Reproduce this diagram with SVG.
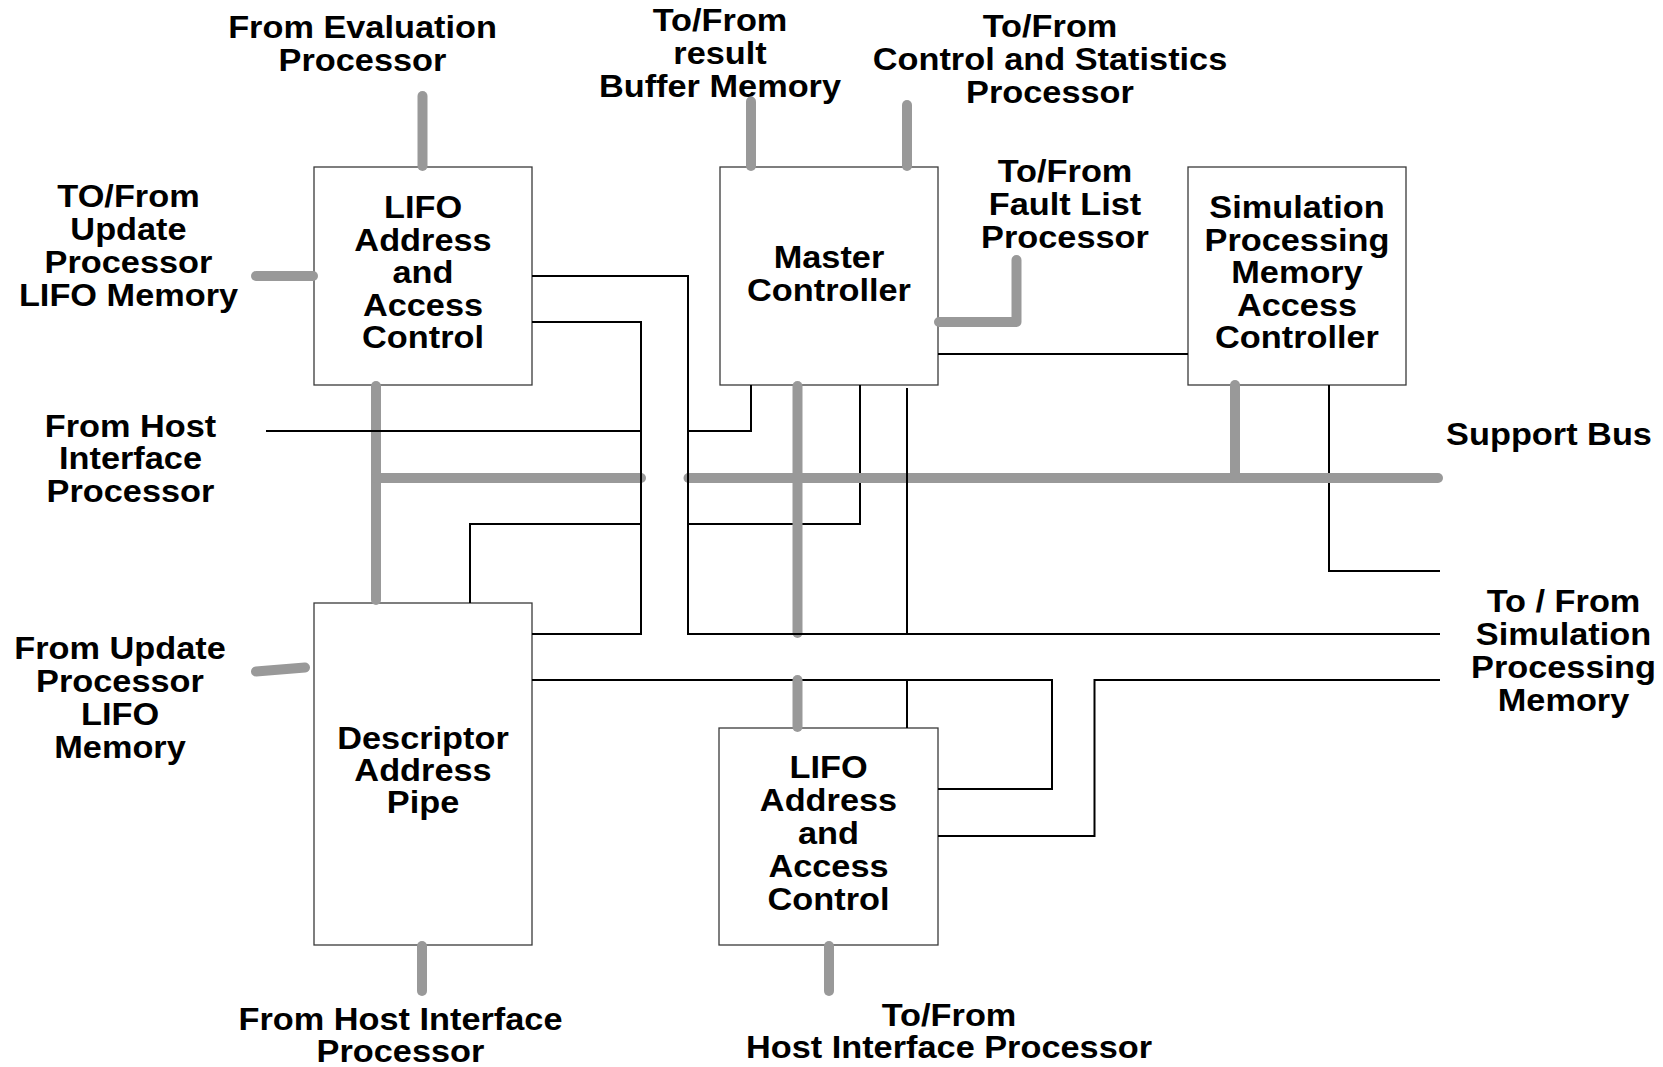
<svg xmlns="http://www.w3.org/2000/svg" width="1663" height="1067" viewBox="0 0 1663 1067">
  <style>
    .box { fill: #ffffff; stroke: #3a3a3a; stroke-width: 1.3; }
    .t { font-family: "Liberation Sans", Arial, Helvetica, sans-serif; font-weight: bold; font-size: 30.5px; fill: #000000; text-anchor: middle; }
    .bus { fill: none; stroke: #999999; stroke-width: 10; stroke-linecap: round; stroke-linejoin: round; }
    .sig { fill: none; stroke: #000000; stroke-width: 2; stroke-linecap: butt; stroke-linejoin: miter; }
  </style>

  <rect width="1663" height="1067" fill="#ffffff"/>

  <!-- Functional blocks -->
  <g id="lifo-top">
    <rect class="box" x="314" y="167" width="218" height="218"/>
    <text class="t" transform="translate(423 0) scale(1.125 1)"><tspan x="0" y="218.5">LIFO</tspan><tspan x="0" y="251">Address</tspan><tspan x="0" y="283.5">and</tspan><tspan x="0" y="316">Access</tspan><tspan x="0" y="348.5">Control</tspan></text>
  </g>

  <g id="master-controller">
    <rect class="box" x="720" y="167" width="218" height="218"/>
    <text class="t" transform="translate(829 0) scale(1.125 1)"><tspan x="0" y="268">Master</tspan><tspan x="0" y="301">Controller</tspan></text>
  </g>

  <g id="sim-mem-access">
    <rect class="box" x="1188" y="167" width="218" height="218"/>
    <text class="t" transform="translate(1297 0) scale(1.125 1)"><tspan x="0" y="218.5">Simulation</tspan><tspan x="0" y="251">Processing</tspan><tspan x="0" y="283.5">Memory</tspan><tspan x="0" y="316">Access</tspan><tspan x="0" y="348.5">Controller</tspan></text>
  </g>

  <g id="descriptor-pipe">
    <rect class="box" x="314" y="603" width="218" height="342"/>
    <text class="t" transform="translate(423 0) scale(1.125 1)"><tspan x="0" y="749.5">Descriptor</tspan><tspan x="0" y="781.5">Address</tspan><tspan x="0" y="813.5">Pipe</tspan></text>
  </g>

  <g id="lifo-bottom">
    <rect class="box" x="719" y="728" width="219" height="217"/>
    <text class="t" transform="translate(828.5 0) scale(1.125 1)"><tspan x="0" y="778">LIFO</tspan><tspan x="0" y="811">Address</tspan><tspan x="0" y="844">and</tspan><tspan x="0" y="877">Access</tspan><tspan x="0" y="910">Control</tspan></text>
  </g>

  <!-- External interface labels -->
  <g id="labels">
    <text class="t" transform="translate(362.5 0) scale(1.125 1)"><tspan x="0" y="38">From Evaluation</tspan><tspan x="0" y="71">Processor</tspan></text>
    <text class="t" transform="translate(720 0) scale(1.125 1)"><tspan x="0" y="31.5">To/From</tspan><tspan x="0" y="64.5">result</tspan><tspan x="0" y="97.5">Buffer Memory</tspan></text>
    <text class="t" transform="translate(1050 0) scale(1.125 1)"><tspan x="0" y="37">To/From</tspan><tspan x="0" y="70">Control and Statistics</tspan><tspan x="0" y="103">Processor</tspan></text>
    <text class="t" transform="translate(1065 0) scale(1.125 1)"><tspan x="0" y="182.5">To/From</tspan><tspan x="0" y="215">Fault List</tspan><tspan x="0" y="248">Processor</tspan></text>
    <text class="t" transform="translate(128.5 0) scale(1.125 1)"><tspan x="0" y="207">TO/From</tspan><tspan x="0" y="240">Update</tspan><tspan x="0" y="273">Processor</tspan><tspan x="0" y="306">LIFO Memory</tspan></text>
    <text class="t" transform="translate(130.5 0) scale(1.125 1)"><tspan x="0" y="437">From Host</tspan><tspan x="0" y="469.5">Interface</tspan><tspan x="0" y="502">Processor</tspan></text>
    <text class="t" transform="translate(120 0) scale(1.125 1)"><tspan x="0" y="659.5">From Update</tspan><tspan x="0" y="692.5">Processor</tspan><tspan x="0" y="725.5">LIFO</tspan><tspan x="0" y="758">Memory</tspan></text>
    <text class="t" transform="translate(1549 0) scale(1.125 1)"><tspan x="0" y="445">Support Bus</tspan></text>
    <text class="t" transform="translate(1563.5 0) scale(1.125 1)"><tspan x="0" y="612">To / From</tspan><tspan x="0" y="645">Simulation</tspan><tspan x="0" y="678.5">Processing</tspan><tspan x="0" y="711.5">Memory</tspan></text>
    <text class="t" transform="translate(400.5 0) scale(1.125 1)"><tspan x="0" y="1030">From Host Interface</tspan><tspan x="0" y="1062">Processor</tspan></text>
    <text class="t" transform="translate(949 0) scale(1.125 1)"><tspan x="0" y="1026.5">To/From</tspan><tspan x="0" y="1058.5">Host Interface Processor</tspan></text>
  </g>

  <!-- Connectors: signal lines, buses and support bus -->
  <g id="connectors">
    <!-- signal lines passing beneath the buses -->
    <path class="sig" d="M688 524 H860 V385"/>
    <path class="sig" d="M1329 385 V571 H1440"/>
    <path class="sig" d="M532 680 H1052 V789 H938"/>

    <!-- gray buses -->
    <line class="bus" x1="422.5" y1="96" x2="422.5" y2="166"/>
    <line class="bus" x1="256" y1="276" x2="313" y2="276"/>
    <line class="bus" x1="376" y1="386" x2="376" y2="600"/>
    <line class="bus" x1="376" y1="478" x2="641" y2="478"/>
    <line class="bus" x1="688.5" y1="478" x2="1438" y2="478"/>
    <line class="bus" x1="797.5" y1="386" x2="797.5" y2="633"/>
    <line class="bus" x1="797.5" y1="680" x2="797.5" y2="727"/>
    <line class="bus" x1="1235" y1="385" x2="1235" y2="478"/>
    <line class="bus" x1="256" y1="671.5" x2="305" y2="667.5"/>
    <line class="bus" x1="422" y1="946" x2="422" y2="991"/>
    <line class="bus" x1="829" y1="946" x2="829" y2="991"/>
    <line class="bus" x1="751" y1="101.5" x2="751" y2="166"/>
    <line class="bus" x1="907" y1="105" x2="907" y2="166"/>
    <path class="bus" d="M939 322 H1016.5 V260"/>

    <!-- signal lines drawn over the buses -->
    <path class="sig" d="M266 431 H641"/>
    <path class="sig" d="M532 322 H641 V634 H532"/>
    <path class="sig" d="M470 603 V524 H640"/>
    <path class="sig" d="M532 276 H688 V634 H1440"/>
    <path class="sig" d="M688 431 H751 V385"/>
    <path class="sig" d="M907 388 V634"/>
    <path class="sig" d="M938 354 H1188"/>
    <path class="sig" d="M907 680 V728"/>
    <path class="sig" d="M1440 680 H1094.5 V836 H938"/>
  </g>
</svg>
